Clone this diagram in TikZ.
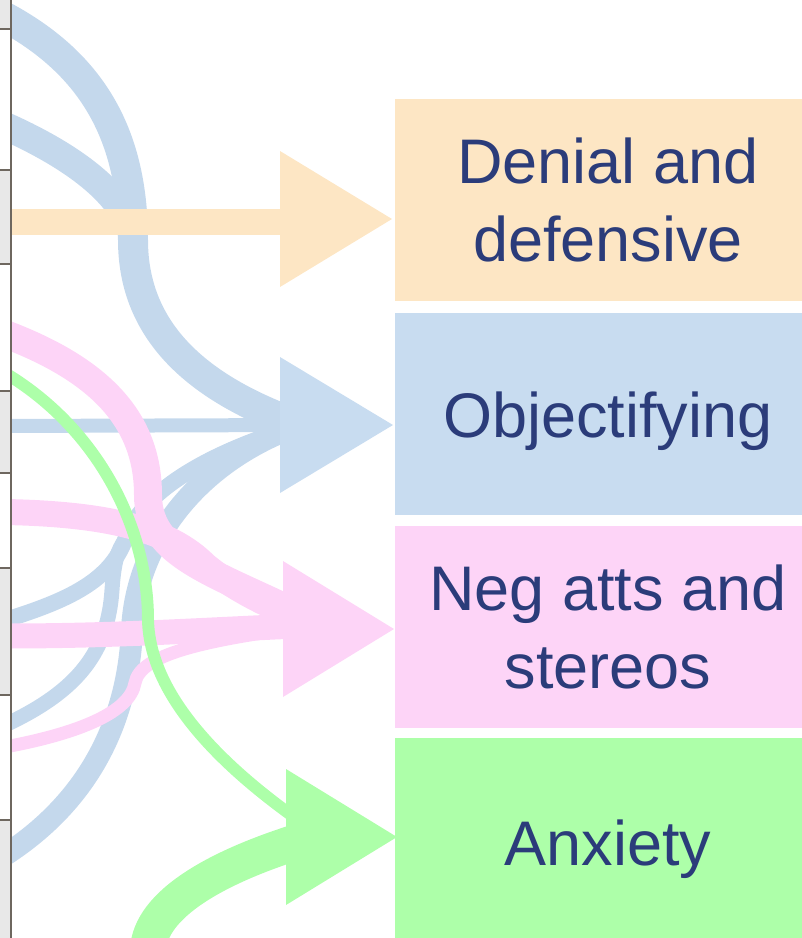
\documentclass[tikz,border=0pt]{standalone}
\usepackage{fontspec}
\setmainfont{Liberation Sans}
\usetikzlibrary{positioning}

\definecolor{denfill}{HTML}{FDE6C4}
\definecolor{objfill}{HTML}{C8DCF0}
\definecolor{objflow}{HTML}{C4D8EC}
\definecolor{negfill}{HTML}{FDD4F7}
\definecolor{anxfill}{HTML}{ADFFA9}
\definecolor{labeltext}{HTML}{2B3C7A}
\definecolor{srcfill}{HTML}{E8E8E8}
\definecolor{srcline}{HTML}{6E675F}

\begin{document}
\begin{tikzpicture}[x=1pt, y=-1pt, node distance=10pt,
  catbox/.style={rectangle, minimum width=426pt, minimum height=202pt, inner sep=0pt, align=center, text=labeltext, font=\fontsize{63}{77.5}\selectfont},
  flow/.style={line width=#1, line cap=butt}]
\clip (0,0) rectangle (802,938);

  % category boxes on the right
  \node[catbox, fill=denfill] (den) at (608,200) {Denial and\\defensive};
  \node[catbox, fill=objfill, text depth=0pt, below=12pt of den] (obj) {Objectifying};
  \node[catbox, fill=negfill, below=of obj] (neg) {Neg atts and\\stereos};
  \node[catbox, fill=anxfill, text depth=0pt, minimum height=209pt, below=of neg] (anx) {Anxiety};

  % flow ends, under the heads
  \coordinate (eden) at (300,222);
  \coordinate (eobj) at (300,425);
  \coordinate (eneg) at (320,625);
  \coordinate (eanx) at (320,835);

  % flows into Objectifying
  \draw[flow=30pt, objflow] (5,17) .. controls (88,62) and (133,130) .. (133,240) .. controls (133,330) and (195,388) .. (eobj);
  \draw[flow=28pt, objflow] (5,126) .. controls (70,155) and (128,195) .. (133,240) .. controls (133,330) and (195,388) .. (eobj);
  \draw[flow=14pt, objflow] (5,426) -- (eobj);
  \draw[flow=16pt, objflow] (5,620) .. controls (70,600) and (110,580) .. (125,540) .. controls (140,495) and (200,455) .. (eobj);
  \draw[flow=15pt, objflow] (5,725) .. controls (80,690) and (108,650) .. (112,590) .. controls (114,560) and (118,550) .. (125,540) .. controls (140,495) and (200,455) .. (eobj);
  \draw[flow=22pt, objflow] (5,855) .. controls (90,800) and (128,720) .. (132,630) .. controls (136,540) and (200,460) .. (eobj);

  % flow into Denial
  \draw[flow=26pt, denfill] (5,222) -- (eden);

  % flows into Neg atts
  \draw[flow=28pt, negfill] (5,334) .. controls (100,370) and (148,420) .. (148,495) .. controls (148,560) and (225,575) .. (eneg);
  \draw[flow=26pt, negfill] (5,512) .. controls (110,514) and (170,530) .. (205,565) .. controls (235,590) and (275,610) .. (eneg);
  \draw[flow=25pt, negfill] (5,636) .. controls (120,636) and (200,630) .. (eneg);
  \draw[flow=13pt, negfill] (5,747) .. controls (80,733) and (130,712) .. (135,683) .. controls (140,655) and (200,640) .. (eneg);

  % flows into Anxiety
  \draw[flow=12pt, anxfill] (5,373) .. controls (100,430) and (148,530) .. (148,620) .. controls (150,700) and (230,775) .. (eanx);
  \draw[flow=36pt, anxfill] (148,950) .. controls (150,905) and (215,865) .. (eanx);

  % arrow heads
  \foreach \bx/\tx/\ty/\col in {280/392/219/denfill, 280/393/425/objfill, 283/394/629/negfill, 286/397/837/anxfill}
    \fill[\col] (\bx,\ty-68) -- (\tx,\ty) -- (\bx,\ty+68) -- cycle;

  % edge of the source column
  \foreach \ya/\yb/\col in {-5/29/srcfill, 29/170/white, 170/264/srcfill, 264/391/white, 391/473/srcfill, 473/568/white, 568/695/srcfill, 695/820/white, 820/945/srcfill}
    \filldraw[fill=\col, draw=srcline, line width=2pt] (-5,\ya) rectangle (11,\yb);
\end{tikzpicture}
\end{document}
